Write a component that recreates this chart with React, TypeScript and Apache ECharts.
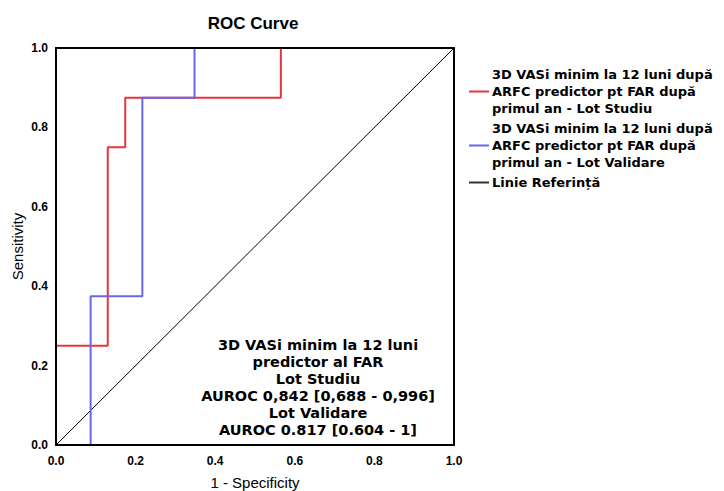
import React, { useEffect, useRef } from "react";
import * as echarts from "echarts";

const studyX = [0, 0, 0.13, 0.13, 0.174, 0.174, 0.565, 0.565, 1];
const studyY = [0, 0.25, 0.25, 0.75, 0.75, 0.875, 0.875, 1, 1];
const validX = [0, 0.087, 0.087, 0.217, 0.217, 0.348, 0.348, 1];
const validY = [0, 0, 0.375, 0.375, 0.875, 0.875, 1, 1];
const refX = [0, 1];
const refY = [0, 1];

const seriesNames = [
  "3D VASi minim la 12 luni după\nARFC predictor pt FAR după\nprimul an - Lot Studiu",
  "3D VASi minim la 12 luni după\nARFC predictor pt FAR după\nprimul an - Lot Validare",
  "Linie Referință",
];
const annotationLines = [
  "3D VASi minim la 12 luni",
  "predictor al FAR",
  "Lot Studiu",
  "AUROC 0,842 [0,688 - 0,996]",
  "Lot Validare",
  "AUROC 0.817 [0.604 - 1]",
];

const zip = (xs: number[], ys: number[]) => xs.map((x, i) => [x, ys[i]]);

export default function App() {
  const ref = useRef<HTMLDivElement>(null);
  useEffect(() => {
    document.body.style.margin = "0";
    const chart = echarts.init(ref.current!, null, { renderer: "svg" });
    const labelFont = {
      fontFamily: "'Liberation Sans Narrow', 'Liberation Sans'",
      fontWeight: "bold" as const,
      fontSize: 12,
      color: "#000",
    };
    const frameAxis = {
      type: "value" as const,
      min: 0,
      max: 1,
      interval: 0.2,
      z: 10,
      axisLine: { show: true, onZero: false, lineStyle: { color: "#000", width: 2 } },
      axisTick: { show: false },
      splitLine: { show: false },
    };
    chart.setOption({
      animation: false,
      backgroundColor: "#fff",
      grid: { left: 56, top: 48, width: 398, height: 397, outerBoundsMode: "none", containLabel: false },
      xAxis: [
        {
          ...frameAxis,
          position: "bottom",
          name: "1 - Specificity",
          nameLocation: "middle",
          nameGap: 30,
          nameMoveOverlap: false,
          nameTextStyle: { fontFamily: "Liberation Sans", fontSize: 15, color: "#000" },
          axisLabel: { ...labelFont, margin: 10, formatter: (v: number) => v.toFixed(1) },
        },
        { ...frameAxis, position: "top", axisLabel: { show: false } },
      ],
      yAxis: [
        {
          ...frameAxis,
          position: "left",
          name: "Sensitivity",
          nameLocation: "middle",
          nameGap: 31,
          nameMoveOverlap: false,
          nameTextStyle: { fontFamily: "Liberation Sans", fontSize: 15, color: "#000" },
          axisLabel: { ...labelFont, margin: 8, formatter: (v: number) => v.toFixed(1) },
        },
        { ...frameAxis, position: "right", axisLabel: { show: false } },
      ],
      legend: {
        orient: "vertical",
        left: 469,
        top: 66,
        padding: 0,
        itemGap: 3,
        itemWidth: 20,
        itemHeight: 2,
        icon: "rect",
        textStyle: {
          fontFamily: "DejaVu Sans",
          fontWeight: "bold",
          fontSize: 13,
          color: "#000",
          lineHeight: 17,
          padding: [0, 0, 0, -2],
        },
        data: seriesNames,
      },
      graphic: [
        {
          type: "text",
          style: {
            text: "ROC Curve",
            x: 253,
            y: 23,
            textAlign: "center",
            textVerticalAlign: "middle",
            fontFamily: "Liberation Sans",
            fontWeight: "bold",
            fontSize: 17,
            fill: "#000",
          },
        },
        {
          type: "text",
          style: {
            text: annotationLines.join("\n"),
            x: 318,
            y: 336,
            textAlign: "center",
            fontFamily: "DejaVu Sans",
            fontWeight: "bold",
            fontSize: 14.5,
            lineHeight: 17,
            fill: "#000",
          },
        },
      ],
      series: [
        {
          name: seriesNames[0],
          type: "line",
          data: zip(studyX, studyY),
          showSymbol: false,
          lineStyle: { color: "#e8353d", width: 2 },
          itemStyle: { color: "#e8353d" },
          z: 3,
        },
        {
          name: seriesNames[1],
          type: "line",
          data: zip(validX, validY),
          showSymbol: false,
          lineStyle: { color: "#6666ee", width: 2 },
          itemStyle: { color: "#6666ee" },
          z: 4,
        },
        {
          name: seriesNames[2],
          type: "line",
          data: zip(refX, refY),
          showSymbol: false,
          lineStyle: { color: "#000", width: 1 },
          itemStyle: { color: "#333" },
          z: 2,
        },
      ],
    });
    return () => chart.dispose();
  }, []);
  return <div ref={ref} style={{ width: 724, height: 491 }} />;
}
